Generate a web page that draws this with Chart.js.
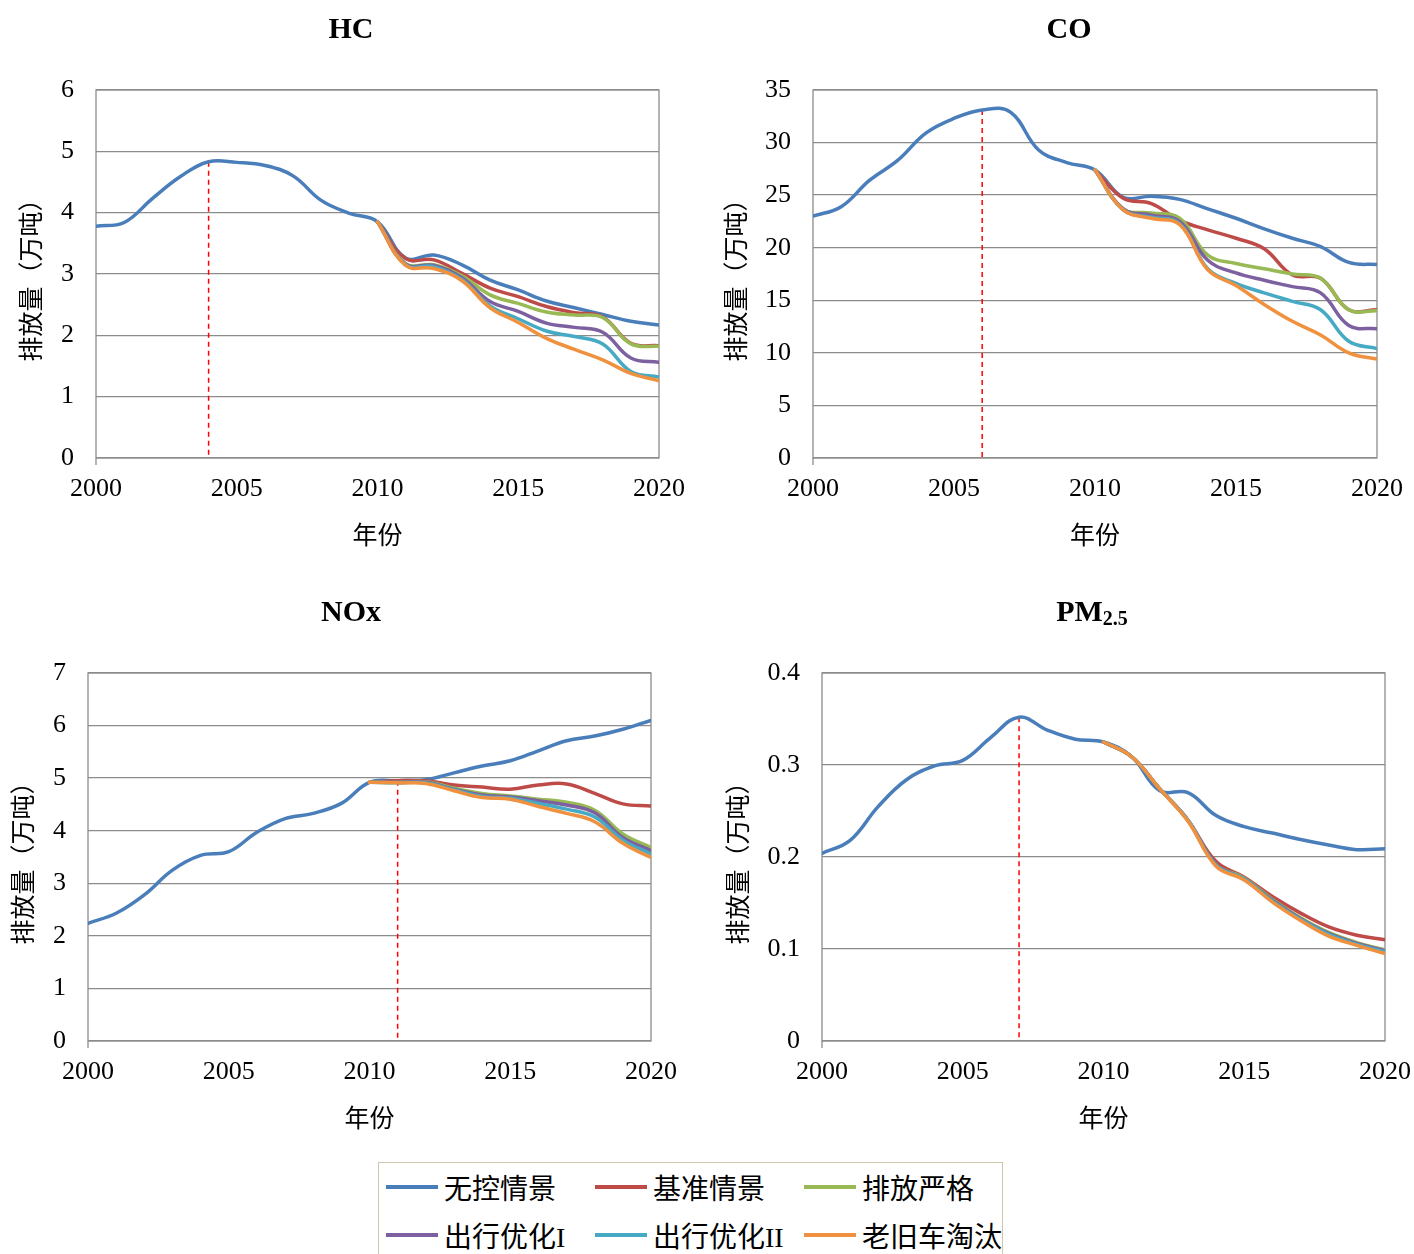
<!DOCTYPE html>
<html>
<head>
<meta charset="utf-8">
<script src="https://cdn.jsdelivr.net/npm/chart.js@4.4.1/dist/chart.umd.min.js"></script>
<style>
  body { margin: 0; background: #fff; width: 1414px; height: 1254px; position: relative; overflow: hidden; }
  .painel { position: absolute; width: 707px; height: 575px; }
  #legenda { position: absolute; left: 378px; top: 1162px; width: 625px; height: 100px; border: 1.5px solid #cfc7aa;
    display: grid; grid-template-columns: 209px 209px 205px; grid-auto-rows: 48px; padding: 0 0 0 7px; box-sizing: border-box;
    font-family: "Liberation Serif", "Noto Sans CJK SC", serif; font-size: 28px; color: #000; }
  #legenda .item { display: flex; align-items: center; white-space: nowrap; }
  #legenda .traco { display: inline-block; width: 52px; height: 3.5px; margin-right: 6px; }
</style>
</head>
<body>
<div class="painel" style="left:0;top:0"><canvas id="hcChart" width="707" height="575"></canvas></div>
<div class="painel" style="left:707px;top:0"><canvas id="coChart" width="707" height="575"></canvas></div>
<div class="painel" style="left:0;top:583px"><canvas id="noxChart" width="707" height="575"></canvas></div>
<div class="painel" style="left:707px;top:583px"><canvas id="pmChart" width="707" height="575"></canvas></div>
<div id="legenda"></div>

<script>
// nomes e cores das séries
const nomes = ['无控情景', '基准情景', '排放严格', '出行优化I', '出行优化II', '老旧车淘汰'];
const cores = ['#4A7EBB', '#BE4B48', '#98B954', '#7D60A0', '#46AAC5', '#F0913F'];

const anos = [2000, 2001, 2002, 2003, 2004, 2005, 2006, 2007, 2008, 2009, 2010,
              2011, 2012, 2013, 2014, 2015, 2016, 2017, 2018, 2019, 2020];
const anosCenario = [2010, 2011, 2012, 2013, 2014, 2015, 2016, 2017, 2018, 2019, 2020];

// HC (万吨)
const hcBase     = [3.78, 3.84, 4.23, 4.59, 4.83, 4.82, 4.77, 4.60, 4.20, 3.99, 3.85, 3.26, 3.31, 3.15, 2.90, 2.74, 2.56, 2.45, 2.34, 2.23, 2.17];
const hcReferencia = [3.85, 3.25, 3.23, 3.01, 2.77, 2.63, 2.47, 2.37, 2.30, 1.87, 1.83];
const hcEstrito  = [3.85, 3.17, 3.15, 2.97, 2.66, 2.52, 2.38, 2.33, 2.29, 1.86, 1.82];
const hcViagemI  = [3.85, 3.16, 3.14, 2.94, 2.55, 2.39, 2.20, 2.13, 2.05, 1.63, 1.56];
const hcViagemII = [3.85, 3.15, 3.12, 2.91, 2.48, 2.27, 2.07, 1.98, 1.86, 1.41, 1.32];
const hcSucata   = [3.85, 3.14, 3.09, 2.89, 2.45, 2.21, 1.95, 1.77, 1.60, 1.38, 1.26];

// CO (万吨)
const coBase     = [23.0, 23.9, 26.4, 28.3, 30.9, 32.3, 33.1, 32.9, 29.3, 28.1, 27.4, 24.8, 24.9, 24.6, 23.7, 22.8, 21.8, 20.9, 20.1, 18.6, 18.4];
const coReferencia = [27.4, 24.7, 24.2, 22.6, 21.7, 20.9, 19.9, 17.4, 17.1, 14.1, 14.1];
const coEstrito  = [27.4, 23.7, 23.3, 22.8, 19.3, 18.5, 18.0, 17.5, 17.1, 14.1, 14.0];
const coViagemI  = [27.4, 23.7, 23.1, 22.5, 18.8, 17.6, 16.9, 16.3, 15.7, 12.6, 12.3];
const coViagemII = [27.4, 23.6, 22.9, 22.3, 18.0, 16.6, 15.7, 14.9, 14.1, 11.1, 10.4];
const coSucata   = [27.4, 23.6, 22.8, 22.2, 17.9, 16.4, 14.6, 13.0, 11.7, 10.0, 9.4];

// NOx (万吨)
const noxBase     = [2.24, 2.43, 2.78, 3.25, 3.53, 3.60, 3.97, 4.23, 4.33, 4.52, 4.92, 4.95, 4.97, 5.10, 5.23, 5.33, 5.52, 5.71, 5.80, 5.93, 6.10];
const noxReferencia = [4.92, 4.95, 4.95, 4.87, 4.83, 4.79, 4.87, 4.89, 4.71, 4.51, 4.47];
const noxEstrito  = [4.92, 4.92, 4.93, 4.81, 4.71, 4.66, 4.60, 4.54, 4.39, 3.94, 3.68];
const noxViagemI  = [4.92, 4.92, 4.92, 4.79, 4.68, 4.64, 4.57, 4.49, 4.34, 3.87, 3.62];
const noxViagemII = [4.92, 4.91, 4.91, 4.78, 4.65, 4.62, 4.52, 4.41, 4.26, 3.82, 3.56];
const noxSucata   = [4.92, 4.91, 4.90, 4.76, 4.63, 4.60, 4.46, 4.33, 4.17, 3.76, 3.49];

// PM2.5 (万吨)
const pmBase     = [0.204, 0.218, 0.255, 0.284, 0.299, 0.305, 0.330, 0.352, 0.338, 0.328, 0.325, 0.309, 0.272, 0.270, 0.245, 0.233, 0.226, 0.219, 0.213, 0.208, 0.209];
const pmReferencia = [0.325, 0.309, 0.274, 0.240, 0.195, 0.178, 0.157, 0.139, 0.124, 0.115, 0.110];
const pmEstrito  = [0.325, 0.309, 0.274, 0.240, 0.192, 0.177, 0.154, 0.134, 0.118, 0.107, 0.099];
const pmViagemI  = [0.325, 0.309, 0.274, 0.240, 0.192, 0.176, 0.153, 0.133, 0.117, 0.106, 0.098];
const pmViagemII = [0.325, 0.309, 0.274, 0.240, 0.191, 0.176, 0.152, 0.132, 0.116, 0.105, 0.097];
const pmSucata   = [0.325, 0.309, 0.274, 0.239, 0.190, 0.175, 0.151, 0.131, 0.114, 0.104, 0.095];

const serif = '"Liberation Serif", "Noto Sans CJK SC", serif';
const cinza = '#8c8c8c';

// título com subscrito opcional (PM2.5)
const titulo = {
  id: 'titulo',
  afterDraw(chart, args, opts) {
    const ctx = chart.ctx;
    ctx.save();
    ctx.fillStyle = '#000';
    ctx.textBaseline = 'alphabetic';
    ctx.font = 'bold 30px ' + serif;
    const w1 = ctx.measureText(opts.texto).width;
    ctx.font = 'bold 20px ' + serif;
    const w2 = opts.sub ? ctx.measureText(opts.sub).width : 0;
    const x0 = opts.x - (w1 + w2) / 2;
    ctx.font = 'bold 30px ' + serif;
    ctx.fillText(opts.texto, x0, 38);
    if (opts.sub) {
      ctx.font = 'bold 20px ' + serif;
      ctx.fillText(opts.sub, x0 + w1, 42);
    }
    ctx.restore();
  }
};

// moldura da área do gráfico e linha vermelha tracejada
const moldura = {
  id: 'moldura',
  beforeDatasetsDraw(chart, args, opts) {
    const { ctx, chartArea: a, scales: { x, y } } = chart;
    ctx.save();
    ctx.strokeStyle = cinza;
    ctx.lineWidth = 1.3;
    ctx.strokeRect(a.left, a.top, a.right - a.left, a.bottom - a.top);
    ctx.beginPath();
    ctx.moveTo(a.left, a.bottom);
    ctx.lineTo(a.left, a.bottom + 7);
    ctx.stroke();
    const px = x.getPixelForValue(opts.ano);
    ctx.strokeStyle = '#ff0000';
    ctx.lineWidth = 1.5;
    ctx.setLineDash([5, 4]);
    ctx.beginPath();
    ctx.moveTo(px, y.getPixelForValue(opts.valor));
    ctx.lineTo(px, a.bottom);
    ctx.stroke();
    ctx.restore();
  }
};

function criarGrafico(id, cfg) {
  const datasets = [{
    label: nomes[0],
    data: anos.map((a, i) => ({ x: a, y: cfg.base[i] })),
    borderColor: cores[0],
    order: 6
  }];
  cfg.cenarios.forEach((serie, k) => {
    datasets.push({
      label: nomes[k + 1],
      data: anosCenario.map((a, i) => ({ x: a, y: serie[i] })),
      borderColor: cores[k + 1],
      order: 5 - k
    });
  });
  new Chart(document.getElementById(id), {
    type: 'line',
    data: { datasets },
    options: {
      responsive: false,
      animation: false,
      layout: { padding: { top: 90, right: cfg.direita, bottom: 0, left: 0 } },
      elements: {
        point: { radius: 0 },
        line: { borderWidth: 3.5, tension: 0.4, fill: false, borderCapStyle: 'round' }
      },
      plugins: {
        legend: { display: false },
        tooltip: { enabled: false },
        titulo: cfg.titulo,
        moldura: { ano: cfg.ano, valor: cfg.base[anos.indexOf(cfg.ano)] }
      },
      scales: {
        x: {
          type: 'linear', min: 2000, max: 2020,
          grid: { display: false },
          border: { display: false },
          ticks: { stepSize: 5, padding: 8, color: '#000', font: { family: serif, size: 26 }, callback: v => String(v) },
          title: { display: true, text: '年份', color: '#000', font: { family: serif, size: 25 }, padding: { top: 0, bottom: 23 } },
          afterFit: s => { s.height = 117; s.paddingLeft = 0; s.paddingRight = 0; }
        },
        y: {
          min: 0, max: cfg.max,
          grid: { color: cinza, lineWidth: 1.3, drawTicks: false },
          border: { display: false },
          ticks: { stepSize: cfg.passo, padding: 22, color: '#000', font: { family: serif, size: 26 }, callback: cfg.formato },
          title: { display: true, text: '排放量（万吨）', color: '#000', font: { family: serif, size: 25 }, padding: { top: cfg.tituloY, bottom: 0 } },
          afterFit: s => { s.width = cfg.largura; }
        }
      }
    },
    plugins: [titulo, moldura]
  });
}

criarGrafico('hcChart', {
  base: hcBase, cenarios: [hcReferencia, hcEstrito, hcViagemI, hcViagemII, hcSucata],
  max: 6, passo: 1, ano: 2004, largura: 96, direita: 48, tituloY: 18,
  titulo: { texto: 'HC', x: 351 }
});
criarGrafico('coChart', {
  base: coBase, cenarios: [coReferencia, coEstrito, coViagemI, coViagemII, coSucata],
  max: 35, passo: 5, ano: 2006, largura: 106, direita: 37, tituloY: 16,
  titulo: { texto: 'CO', x: 362 }
});
criarGrafico('noxChart', {
  base: noxBase, cenarios: [noxReferencia, noxEstrito, noxViagemI, noxViagemII, noxSucata],
  max: 7, passo: 1, ano: 2011, largura: 88, direita: 56, tituloY: 10,
  titulo: { texto: 'NOx', x: 351 }
});
criarGrafico('pmChart', {
  base: pmBase, cenarios: [pmReferencia, pmEstrito, pmViagemI, pmViagemII, pmSucata],
  max: 0.4, passo: 0.1, ano: 2007, largura: 115, direita: 29, tituloY: 18,
  formato: v => v === 0 ? '0' : v.toFixed(1),
  titulo: { texto: 'PM', sub: '2.5', x: 385 }
});

// legenda comum
document.getElementById('legenda').innerHTML = nomes.map((n, i) =>
  `<div class="item"><span class="traco" style="background:${cores[i]}"></span>${n}</div>`).join('');
</script>
</body>
</html>
